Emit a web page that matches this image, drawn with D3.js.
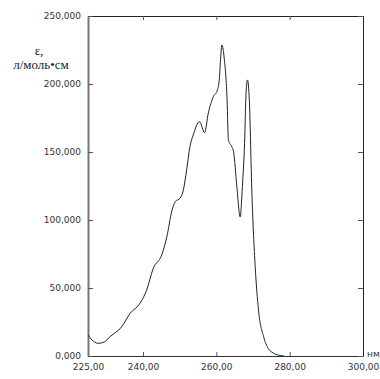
<!DOCTYPE html>
<html>
<head>
<meta charset="utf-8">
<script src="https://cdn.jsdelivr.net/npm/d3@7"></script>
<style>
  body { margin: 0; background: #fff; }
  .tick text { font-family: "DejaVu Sans", sans-serif; font-size: 9px; fill: #333; }
</style>
</head>
<body>
<svg id="chart" width="380" height="379"></svg>
<script>
// wavelength, nm
var wavelength = [225.0, 226.1, 227.8, 229.4, 231.0, 234.2, 236.5, 239.2, 241.0, 242.8,
  245.1, 246.5, 247.9, 248.8, 250.1, 251.0, 251.9, 252.8, 253.7, 255.4,
  256.8, 257.8, 259.2, 260.3, 260.8, 261.2, 261.5, 262.2, 262.9, 263.3,
  264.2, 264.7, 265.6, 266.5, 267.1, 267.7, 268.1, 268.5, 269.0, 269.7,
  270.6, 271.5, 272.9, 274.2, 275.5, 277.0, 278.5];
// molar absorptivity, l/(mol*cm)
var epsilon = [15400, 11800, 9300, 10300, 14200, 21500, 31400, 38800, 48500, 64500,
  74300, 87700, 107000, 113500, 116000, 122000, 136800, 154000, 162500, 172300,
  164200, 178500, 190700, 195600, 203000, 220000, 228700, 217600, 190700, 158800,
  154000, 150200, 124500, 102200, 124500, 156400, 193000, 203000, 188000, 119600,
  65700, 33800, 14200, 5400, 2200, 600, 0];
var xTicks = [225, 240, 260, 280, 300];
var yTicks = [0, 50000, 100000, 150000, 200000, 250000];

var svg = d3.select("#chart"),
    margin = {top: 16, right: 17, bottom: 23, left: 88},
    width = +svg.attr("width") - margin.left - margin.right,
    height = +svg.attr("height") - margin.top - margin.bottom;

var x = d3.scaleLinear().domain([225, 300]).range([0, width]),
    y = d3.scaleLinear().domain([0, 250000]).range([height, 0]);

var g = svg.append("g")
    .attr("transform", "translate(" + margin.left + "," + margin.top + ")");

var fmtX = function(d) { return d3.format(".2f")(d).replace(".", ","); };
var fmtY = function(d) { return d3.format(".3f")(d / 1000).replace(".", ","); };

// bottom axis, ticks pointing in
var xb = g.append("g")
    .attr("transform", "translate(0," + height + ")")
    .call(d3.axisBottom(x).tickValues(xTicks).tickFormat(fmtX).tickSizeInner(-4).tickSizeOuter(0).tickPadding(8));
xb.select(".domain").attr("stroke", "#333");
xb.selectAll(".tick line").attr("stroke", "#555");

// top frame
var xt = g.append("g")
    .call(d3.axisTop(x).tickValues(xTicks).tickFormat("").tickSizeInner(-4).tickSizeOuter(0));
xt.select(".domain").attr("stroke", "#222");
xt.selectAll(".tick line").attr("stroke", "#555");

// left axis
var yl = g.append("g")
    .call(d3.axisLeft(y).tickValues(yTicks).tickFormat(fmtY).tickSizeInner(-5).tickSizeOuter(0).tickPadding(7));
yl.select(".domain").attr("stroke", "#777").attr("stroke-width", 2);
yl.selectAll(".tick line").attr("stroke", "#555");

// right frame
var yr = g.append("g")
    .attr("transform", "translate(" + width + ",0)")
    .call(d3.axisRight(y).tickValues(yTicks).tickFormat("").tickSizeInner(-5).tickSizeOuter(0));
yr.select(".domain").attr("stroke", "#222");
yr.selectAll(".tick line").attr("stroke", "#555");

var line = d3.line()
    .x(function(d, i) { return x(wavelength[i]); })
    .y(function(d) { return y(d); })
    .curve(d3.curveMonotoneX);

g.append("path")
    .datum(epsilon)
    .attr("fill", "none")
    .attr("stroke", "#222")
    .attr("stroke-width", 1)
    .attr("stroke-linejoin", "round")
    .attr("d", line);

// axis titles
svg.append("text")
    .attr("x", 39).attr("y", 55)
    .attr("text-anchor", "middle")
    .style("font-family", "'Liberation Serif', serif")
    .style("font-size", "13px")
    .attr("fill", "#222")
    .text("ε,");
svg.append("text")
    .attr("x", 41).attr("y", 69)
    .attr("text-anchor", "middle")
    .style("font-family", "'Liberation Serif', serif")
    .style("font-size", "13px")
    .attr("fill", "#222")
    .text("л/моль•см");
svg.append("text")
    .attr("x", 367).attr("y", 357)
    .style("font-family", "'DejaVu Sans', sans-serif")
    .style("font-size", "9px")
    .attr("fill", "#333")
    .text("нм");
</script>
</body>
</html>
